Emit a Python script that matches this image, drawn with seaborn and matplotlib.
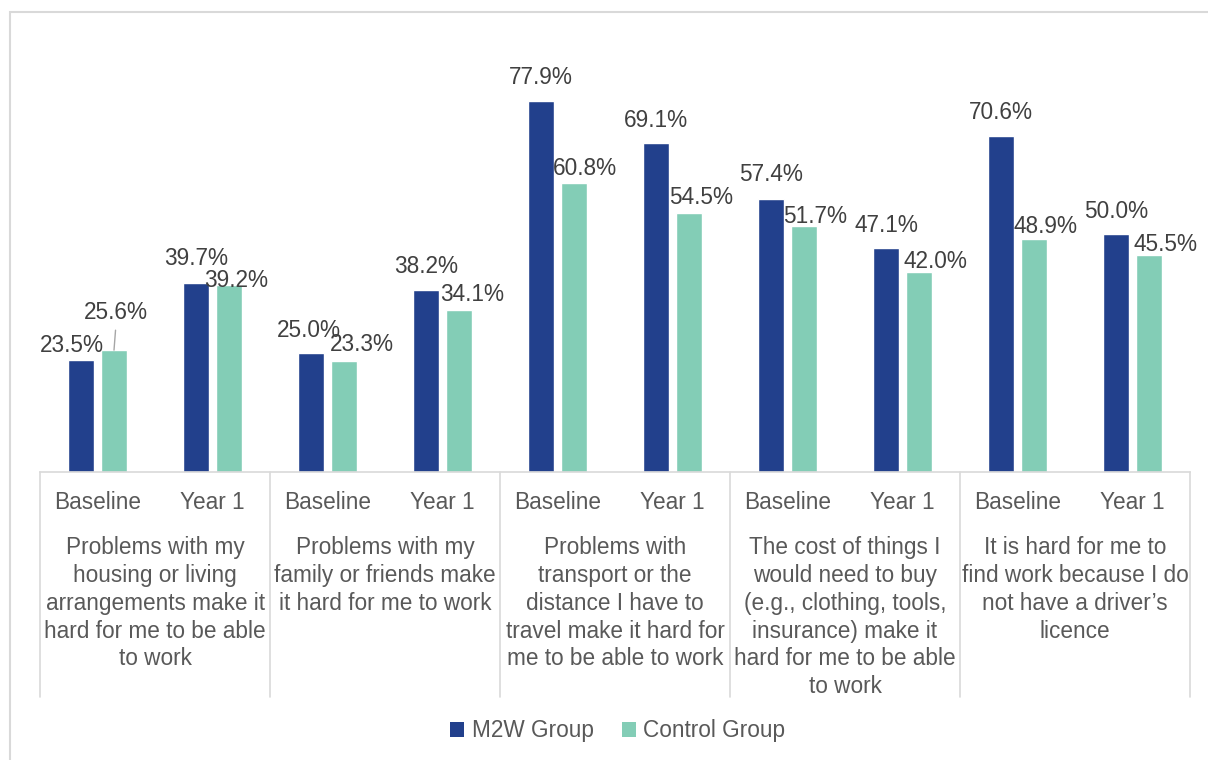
import matplotlib
matplotlib.use("Agg")
import matplotlib.pyplot as plt
from matplotlib.patches import Patch, Rectangle
import pandas as pd
import seaborn as sns

# --- data -------------------------------------------------------------
categories = [
    "Problems with my\nhousing or living\narrangements make it\nhard for me to be able\nto work",
    "Problems with my\nfamily or friends make\nit hard for me to work",
    "Problems with\ntransport or the\ndistance I have to\ntravel make it hard for\nme to be able to work",
    "The cost of things I\nwould need to buy\n(e.g., clothing, tools,\ninsurance) make it\nhard for me to be able\nto work",
    "It is hard for me to\nfind work because I do\nnot have a driver\u2019s\nlicence",
]
periods = ["Baseline", "Year 1"]
groups = ["M2W Group", "Control Group"]
m2w = [23.5, 39.7, 25.0, 38.2, 77.9, 69.1, 57.4, 47.1, 70.6, 50.0]
control = [25.6, 39.2, 23.3, 34.1, 60.8, 54.5, 51.7, 42.0, 48.9, 45.5]

# --- styling ----------------------------------------------------------
colors = ["#22408C", "#83CDB6"]
label_color = "#404040"
axis_text_color = "#595959"
line_color = "#D9D9D9"
FONT = ["Liberation Sans", "DejaVu Sans"]
FS = 16.3

# label nudges in pixels (dx, gap above bar top) for each series
m2w_nudge = [(-9, 8), (0, 18), (-2, 16), (0, 17), (0, 17),
             (0, 16), (0, 18), (0, 16), (0, 17), (0, 16)]
ctrl_nudge = [(2, 31), (7, -2), (18, 10), (13, 9), (11, 8),
              (12, 9), (11, 3), (16, 4), (11, 6), (16, 4)]

sns.set_theme(style="white")
plt.rcParams["font.family"] = FONT

slots = [f"{c}-{p}" for c in range(len(categories)) for p in range(len(periods))]
df = pd.DataFrame({
    "slot": slots * 2,
    "group": [groups[0]] * len(slots) + [groups[1]] * len(slots),
    "value": m2w + control,
})

W, H, DPI = 1208, 760, 100
fig = plt.figure(figsize=(W / DPI, H / DPI), dpi=DPI)
ax_left, ax_right, ax_base, ax_top = 40, 1190, 472, 43.6
ax = fig.add_axes([ax_left / W, 1 - ax_base / H,
                   (ax_right - ax_left) / W, (ax_base - ax_top) / H])

sns.barplot(data=df, x="slot", y="value", hue="group", order=slots,
            hue_order=groups, palette=colors, width=0.574, gap=0.21,
            saturation=1, ax=ax, legend=False, errorbar=None)

ax.set_ylim(0, 90)
ax.set_xlim(-0.5, len(slots) - 0.5)
ax.set_xlabel("")
ax.set_ylabel("")
ax.set_xticks([])
ax.set_yticks([])
for s in ("top", "right", "left"):
    ax.spines[s].set_visible(False)
ax.spines["bottom"].set_color(line_color)
ax.spines["bottom"].set_linewidth(1.2)

px = 72 / DPI  # points per pixel

# value labels
for container, nudges in zip(ax.containers, [m2w_nudge, ctrl_nudge]):
    for i, (bar, (dx, gap)) in enumerate(zip(container, nudges)):
        x = bar.get_x() + bar.get_width() / 2
        h = bar.get_height()
        kw = {}
        if gap > 25:
            kw["arrowprops"] = dict(arrowstyle="-", color="#A6A6A6", lw=1,
                                    shrinkA=2, shrinkB=0, relpos=(0.5, 0))
        ax.annotate(f"{h:.1f}%", xy=(x, h), xytext=(dx * px, gap * px),
                    textcoords="offset points", ha="center", va="baseline",
                    fontsize=FS, color=label_color, family=FONT, **kw)

# hierarchical category axis
ax_h = ax_base - ax_top
def yfrac(ypix):
    return (ax_base - ypix) / ax_h

tr = ax.get_xaxis_transform()
for i, s in enumerate(slots):
    ax.text(i, yfrac(502), periods[i % 2], transform=tr, ha="center",
            va="center", fontsize=FS, color=axis_text_color, family=FONT)
for c, name in enumerate(categories):
    ax.text(2 * c + 0.5, yfrac(536), name, transform=tr, ha="center",
            va="top", fontsize=FS, color=axis_text_color, family=FONT,
            linespacing=1.27)
for b in range(len(categories) + 1):
    ax.plot([2 * b - 0.5, 2 * b - 0.5], [0, yfrac(697)], transform=tr,
            color=line_color, lw=1.2, clip_on=False)

# legend
handles = [Patch(facecolor=col, edgecolor="none", label=g)
           for col, g in zip(colors, groups)]
fig.legend(handles=handles, loc="center", bbox_to_anchor=(618 / W, 1 - 731 / H),
           ncol=2, frameon=False, handlelength=0.62,
           handleheight=0.62, handletextpad=0.35, columnspacing=1.2,
           labelcolor=axis_text_color, prop={"family": FONT, "size": FS})

# chart-area border
fig.patches.append(Rectangle((10 / W, -0.1), 1.2, (H - 12) / H + 0.1,
                             transform=fig.transFigure, fill=False,
                             edgecolor=line_color, lw=1.5, zorder=0))

fig.savefig("out.png", dpi=DPI, facecolor="white")
